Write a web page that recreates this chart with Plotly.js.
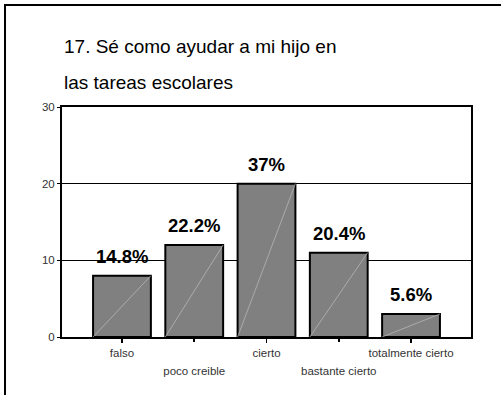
<!DOCTYPE html>
<html>
<head>
<meta charset="utf-8">
<script src="https://cdn.plot.ly/plotly-3.0.1.min.js"></script>
<style>
  html, body { margin: 0; padding: 0; background: #fff; overflow: hidden; }
  #wrap { position: relative; width: 501px; height: 395px; overflow: hidden; }
  #chart { position: absolute; left: 0; top: 0; width: 501px; height: 395px; }
  #frame { position: absolute; left: 4px; top: 4px; width: 700px; height: 700px;
           border-top: 2px solid #000; border-left: 2px solid #000; pointer-events: none; }
</style>
</head>
<body>
<div id="wrap">
  <div id="chart"></div>
  <div id="frame"></div>
</div>
<script>
// ---- data ----
const titleLine1 = "17. Sé como ayudar a mi hijo en";
const titleLine2 = "las tareas escolares";
const categories = ["falso", "poco creible", "cierto", "bastante cierto", "totalmente cierto"];
const counts = [8, 12, 20, 11, 3];
const percentLabels = ["14.8%", "22.2%", "37%", "20.4%", "5.6%"];
const yTicks = [0, 10, 20, 30];

// ---- derived ----
const idx = categories.map((c, i) => i);
const barWidth = 0.8;
const evenIdx = idx.filter(i => i % 2 === 0);
const oddIdx = idx.filter(i => i % 2 === 1);

// diagonal highlight line inside each bar (bottom-left to top-right)
const diagX = [], diagY = [];
idx.forEach(i => {
  diagX.push(i - barWidth / 2, i + barWidth / 2, null);
  diagY.push(0, counts[i], null);
});

const xRange = [-0.83, 4.83];

const traces = [
  {
    type: "bar",
    x: idx,
    y: counts,
    width: barWidth,
    marker: { color: "#808080", line: { color: "#000", width: 2 } },
    hoverinfo: "skip",
    showlegend: false
  },
  {
    type: "scatter",
    mode: "lines",
    x: diagX,
    y: diagY,
    xaxis: "x2",
    line: { color: "#bdbdbd", width: 0.7 },
    hoverinfo: "skip",
    showlegend: false
  }
];

const annotations = [
  {
    text: titleLine1, xref: "paper", yref: "paper", x: 0, y: 1.262,
    xanchor: "left", yanchor: "middle", showarrow: false,
    font: { family: "Liberation Sans, Arial, sans-serif", size: 19, color: "#000" }
  },
  {
    text: titleLine2, xref: "paper", yref: "paper", x: 0, y: 1.106,
    xanchor: "left", yanchor: "middle", showarrow: false,
    font: { family: "Liberation Sans, Arial, sans-serif", size: 19, color: "#000" }
  }
].concat(idx.map(i => ({
  text: "<b>" + percentLabels[i] + "</b>",
  x: i, y: counts[i], xref: "x", yref: "y",
  xanchor: "center", yanchor: "bottom", yshift: 7, showarrow: false,
  font: { family: "Liberation Sans, Arial, sans-serif", size: 18.5, color: "#000" }
})));

const tickFont = { family: "Liberation Sans, Arial, sans-serif", size: 11.5, color: "#333" };

const layout = {
  width: 501, height: 395,
  margin: { l: 61.7, r: 30.3, t: 106.5, b: 57.7, pad: 0 },
  paper_bgcolor: "#fff",
  plot_bgcolor: "#fff",
  showlegend: false,
  bargap: 0,
  xaxis: {
    range: xRange, tickmode: "array", tickvals: evenIdx,
    ticktext: evenIdx.map(i => categories[i]),
    showgrid: false, zeroline: false,
    showline: true, linecolor: "#000", linewidth: 2, mirror: true,
    ticks: "outside", ticklen: 4, tickwidth: 1.5, tickcolor: "#000",
    tickfont: tickFont, fixedrange: true
  },
  xaxis2: {
    range: xRange, overlaying: "x", anchor: "y", side: "bottom",
    tickmode: "array", tickvals: oddIdx,
    ticktext: oddIdx.map(i => categories[i]),
    ticklabelstandoff: 19,
    showgrid: false, zeroline: false, showline: false,
    ticks: "outside", ticklen: 4, tickwidth: 1.5, tickcolor: "#000",
    tickfont: tickFont, fixedrange: true
  },
  yaxis: {
    range: [0, 30], tickmode: "array", tickvals: yTicks,
    showgrid: true, gridcolor: "#000", gridwidth: 1.5,
    zeroline: false,
    showline: true, linecolor: "#000", linewidth: 2, mirror: true,
    ticks: "outside", ticklen: 3, tickwidth: 1, tickcolor: "#000",
    tickfont: tickFont, fixedrange: true
  },
  annotations: annotations
};

Plotly.newPlot("chart", traces, layout, { displayModeBar: false, staticPlot: true });
</script>
</body>
</html>
